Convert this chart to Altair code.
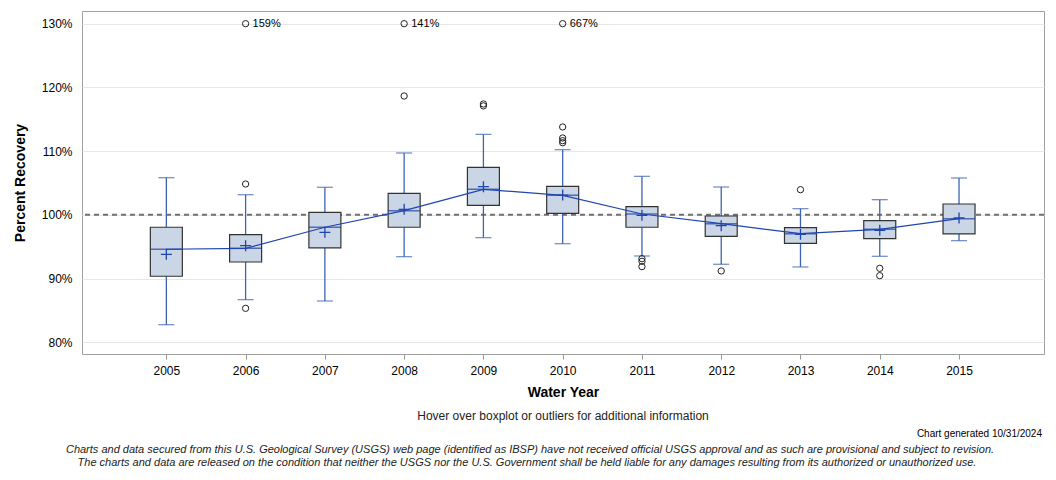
import altair as alt
import pandas as pd

FONT = "Liberation Sans"

years = [2005, 2006, 2007, 2008, 2009, 2010, 2011, 2012, 2013, 2014, 2015]
whisker_low = [82.76, 86.69, 86.48, 93.44, 96.42, 95.47, 93.54, 92.24, 91.82, 93.49, 95.95]
q1 = [90.36, 92.60, 94.80, 98.05, 101.50, 100.24, 98.05, 96.63, 95.53, 96.26, 97.00]
median = [94.60, 94.75, 98.05, 100.65, 104.00, 103.06, 100.13, 98.62, 97.04, 97.73, 99.40]
q3 = [98.05, 96.89, 100.40, 103.38, 107.46, 104.47, 101.28, 99.82, 97.99, 99.08, 101.70]
whisker_high = [105.83, 103.16, 104.32, 109.71, 112.63, 110.23, 106.04, 104.37, 100.97, 102.38, 105.78]
mean = [93.81, 95.16, 97.26, 100.87, 104.42, 103.10, 99.93, 98.30, 96.94, 97.57, 99.50]

out_year = [2006, 2006, 2008, 2009, 2009, 2010, 2010, 2010, 2010,
            2011, 2011, 2011, 2012, 2013, 2014, 2014]
out_val = [104.84, 85.33, 118.65, 117.40, 117.10, 113.79, 112.06, 111.64, 111.32,
           93.12, 92.71, 91.87, 91.19, 103.95, 91.61, 90.45]

off_year = [2006, 2008, 2010]
off_val = [159, 141, 667]
off_label = ["159%", "141%", "667%"]
off_cap = 130

ref_value = 100

df = pd.DataFrame(dict(year=years, lo=whisker_low, q1=q1, med=median, q3=q3, hi=whisker_high, mean=mean))
dout = pd.DataFrame(dict(year=out_year, v=out_val))
doff = pd.DataFrame(dict(year=off_year, raw=off_val, lab=off_label))
doff["v"] = [min(v, off_cap) for v in off_val]
dref = pd.DataFrame(dict(v=[ref_value]))
one = pd.DataFrame(dict(a=[0]))

xscale = alt.Scale(domain=[2003.936, 2016.072], nice=False, zero=False, padding=0)
xaxis = alt.Axis(title="Water Year", values=years, format="d", labelAngle=0, labelFont=FONT,
                 labelFontSize=12, labelColor="#000", labelFlush=False, labelOverlap=False,
                 titleFont=FONT, titleFontSize=14, titleFontWeight="bold", titleColor="#000",
                 tickColor="#999", tickSize=5, domain=False, labelPadding=6, titlePadding=9, grid=False)
yscale = alt.Scale(domain=[78.16, 131.99], nice=False, zero=False, padding=0)
yaxis = alt.Axis(title="Percent Recovery", values=[80, 90, 100, 110, 120, 130],
                 labelExpr="datum.value + '%'", labelFont=FONT, labelFontSize=12, labelColor="#000",
                 titleFont=FONT, titleFontSize=14, titleFontWeight="bold", titleColor="#000",
                 ticks=False, domain=False, labelPadding=10, titlePadding=14,
                 grid=True, gridColor="#e6e6e6", gridWidth=1)


def X():
    return alt.X("year:Q", scale=xscale, axis=xaxis, title="Water Year")


def Y(f):
    return alt.Y(f"{f}:Q", scale=yscale, axis=yaxis, title="Percent Recovery")


ref = alt.Chart(dref).mark_rule(color="#707070", strokeWidth=2, strokeDash=[5, 4]).encode(y=Y("v"))

wlo = alt.Chart(df).mark_rule(color="#3c64b4", strokeWidth=1.3).encode(x=X(), y=Y("lo"), y2="q1:Q")
whi = alt.Chart(df).mark_rule(color="#3c64b4", strokeWidth=1.3).encode(x=X(), y=Y("q3"), y2="hi:Q")
cap_lo = alt.Chart(df).mark_tick(color="#3c64b4", size=16, thickness=1.3, orient="horizontal").encode(
    x=X(), y=Y("lo"))
cap_hi = alt.Chart(df).mark_tick(color="#3c64b4", size=16, thickness=1.3, orient="horizontal").encode(
    x=X(), y=Y("hi"))

box = alt.Chart(df).mark_bar(size=32, fill="#cad5e5", stroke="#333333", strokeWidth=1.2,
                             orient="vertical").encode(x=X(), y=Y("q1"), y2="q3:Q")
med = alt.Chart(df).mark_tick(size=32, thickness=1.5, color="#1f3f9f", orient="horizontal").encode(
    x=X(), y=Y("med"))
line = alt.Chart(df).mark_line(color="#1f45b0", strokeWidth=1.2).encode(x=X(), y=Y("med"))
mn = alt.Chart(df).mark_point(shape="M-1,0L1,0M0,-1L0,1", size=121, filled=False,
                              stroke="#1f45b0", strokeWidth=1.3, opacity=1).encode(x=X(), y=Y("mean"))

outs = alt.Chart(dout).mark_point(shape="circle", size=40, filled=False, stroke="#222222",
                                  strokeWidth=1, opacity=1).encode(x=X(), y=Y("v"))
offp = alt.Chart(doff).mark_point(shape="circle", size=40, filled=False, stroke="#222222",
                                  strokeWidth=1, opacity=1).encode(x=X(), y=Y("v"))
offt = alt.Chart(doff).mark_text(align="left", baseline="middle", dx=7, font=FONT, fontSize=11,
                                 color="#000").encode(x=X(), y=Y("v"), text="lab:N")

sub = alt.Chart(one).mark_text(font=FONT, fontSize=12, color="#222", align="center").encode(
    x=alt.value(481), y=alt.value(405), text=alt.value("Hover over boxplot or outliers for additional information"))
gen = alt.Chart(one).mark_text(font=FONT, fontSize=10, color="#000", align="right").encode(
    x=alt.value(960), y=alt.value(423), text=alt.value("Chart generated 10/31/2024"))
foot1 = alt.Chart(one).mark_text(font=FONT, fontSize=11, fontStyle="italic", color="#222", align="center").encode(
    x=alt.value(448), y=alt.value(439),
    text=alt.value("Charts and data secured from this U.S. Geological Survey (USGS) web page (identified as IBSP) have not received official USGS approval and as such are provisional and subject to revision."))
foot2 = alt.Chart(one).mark_text(font=FONT, fontSize=11, fontStyle="italic", color="#222", align="center").encode(
    x=alt.value(445), y=alt.value(452),
    text=alt.value("The charts and data are released on the condition that neither the USGS nor the U.S. Government shall be held liable for any damages resulting from its authorized or unauthorized use."))

chart = alt.layer(
    ref, wlo, whi, cap_lo, cap_hi, box, med, line, mn, outs, offp, offt, sub, gen, foot1, foot2
).properties(
    width=962, height=343,
    autosize=alt.AutoSizeParams(type="none"),
    padding={"left": 74, "top": 3, "right": 4, "bottom": 114},
    background="white",
).configure_view(stroke="#a0a0a0", strokeWidth=1)

chart.save("out.html", embed_options={"renderer": "svg", "actions": False})
